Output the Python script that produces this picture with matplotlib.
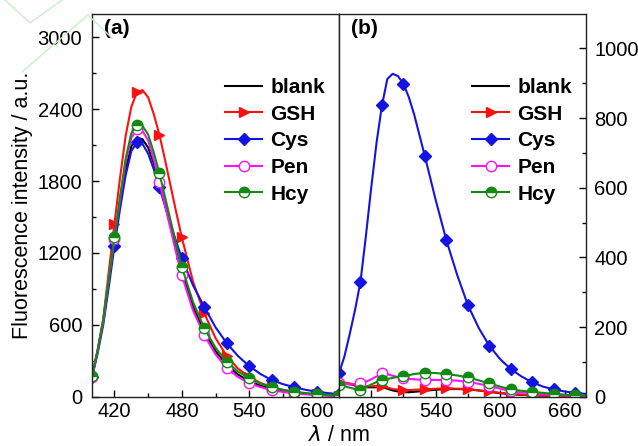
import numpy as np
import matplotlib
matplotlib.use("Agg")
import matplotlib.pyplot as plt
from matplotlib.lines import Line2D

plt.rcParams['font.family'] = ['Liberation Sans', 'DejaVu Sans']

names = ["blank", "GSH", "Cys", "Pen", "Hcy"]

# panel (a): wavelength / nm
wl_a = [400, 405, 410, 415, 420, 425, 430, 435, 440, 445, 450, 455, 460, 465, 470, 475,
        480, 490, 500, 510, 520, 530, 540, 550, 560, 570, 580, 590, 600, 610, 620]
blank_a = [165, 380, 630, 980, 1310, 1620, 1900, 2090, 2164, 2150, 2080, 1950, 1790, 1610, 1420, 1230,
           1050, 750, 540, 380, 265, 185, 130, 92, 65, 47, 34, 24, 17, 12, 9]
gsh_a = [170, 390, 650, 1050, 1445, 1830, 2180, 2420, 2542, 2560, 2500, 2360, 2189, 1980, 1760, 1540,
         1330, 960, 697, 490, 340, 235, 167, 115, 80, 55, 40, 28, 20, 14, 10]
cys_a = [165, 360, 600, 920, 1256, 1570, 1850, 2050, 2125, 2110, 2030, 1900, 1747, 1595, 1440, 1295,
         1155, 930, 750, 580, 447, 340, 256, 190, 139, 105, 80, 58, 42, 30, 22]
pen_a = [165, 380, 630, 985, 1320, 1650, 1960, 2160, 2239, 2220, 2140, 1980, 1797, 1600, 1400, 1200,
         1013, 720, 514, 355, 238, 165, 113, 80, 55, 40, 28, 20, 14, 10, 7]
hcy_a = [170, 385, 640, 990, 1330, 1670, 1990, 2200, 2272, 2260, 2190, 2040, 1867, 1670, 1470, 1270,
         1083, 790, 572, 410, 292, 210, 155, 110, 80, 58, 42, 30, 22, 16, 12]

# panel (b)
wl_b = [450, 455, 460, 465, 470, 475, 480, 485, 490, 495, 500, 505, 510, 515, 520, 530, 540, 550, 560,
        570, 580, 590, 600, 610, 620, 630, 640, 650, 660, 670, 680]
blank_b = [45, 40, 36, 32, 28, 27, 27, 27, 28, 23, 18, 15, 13, 13, 14, 17, 20, 22, 22,
           21, 18, 14, 10, 7, 5, 4, 3, 2, 2, 1, 1]
gsh_b = [45, 41, 38, 34, 30, 30, 30, 31, 30, 26, 22, 20, 19, 19, 20, 21, 23, 24, 23,
         22, 18, 15, 11, 8, 6, 4, 3, 2, 2, 1, 1]
cys_b = [67, 115, 180, 250, 330, 460, 600, 730, 836, 912, 927, 920, 898, 860, 810, 690, 565, 449, 350,
         263, 198, 146, 108, 79, 58, 41, 29, 21, 15, 11, 8]
pen_b = [40, 37, 35, 36, 38, 43, 50, 58, 67, 65, 60, 56, 53, 51, 50, 48, 48, 48, 46,
         43, 37, 31, 23, 16, 12, 10, 7, 5, 4, 3, 2]
hcy_b = [34, 30, 26, 22, 19, 27, 35, 42, 48, 51, 54, 57, 59, 62, 65, 69, 68, 65, 61,
         56, 47, 38, 29, 21, 17, 14, 11, 8, 6, 4, 3]

styles = {
    "blank": dict(color="black", marker=None),
    "GSH": dict(color="#ff1010", marker=">", ms=7.5, mfc="#ff1010", mec="#ff1010"),
    "Cys": dict(color="#1414e0", marker="D", ms=6.5, mfc="#1414e0", mec="#1414e0"),
    "Pen": dict(color="#ff10ff", marker="o", ms=7.5, mfc="white", mec="#ff10ff"),
    "Hcy": dict(color="#128a12", marker="o", ms=7.5, mfc="#128a12", mec="#128a12",
                fillstyle="top", markerfacecoloralt="white"),
}

fig = plt.figure(figsize=(6.38, 4.46), dpi=100)

# faint watermark lines in the corner
for xs, ys in [([5, 30, 62], [0, 23, 0]), ([22, 88, 112], [72, 15, 38])]:
    fig.add_artist(Line2D([x / 638 for x in xs], [1 - y / 446 for y in ys],
                          color="#c8f0c8", lw=1.0, transform=fig.transFigure))

ax1 = fig.add_axes([92 / 638, 1 - 396.7 / 446, 247 / 638, 383.2 / 446])
ax2 = fig.add_axes([339 / 638, 1 - 396.7 / 446, 247 / 638, 383.2 / 446])


def draw(ax, wl, series, step):
    marks = [i for i, w in enumerate(wl) if (w - wl[0]) % step == 0]
    for name, vals in zip(names, series):
        st = dict(styles[name])
        ax.plot(wl, vals, lw=1.5, markevery=marks, label=name, **st)
    leg = ax.legend(loc="upper left", bbox_to_anchor=(0.538, 0.832), frameon=False,
                    borderpad=0, borderaxespad=0, handlelength=1.8, handletextpad=0.38,
                    labelspacing=0.37, prop=dict(size=15, weight="bold"))
    return leg


draw(ax1, wl_a, [blank_a, gsh_a, cys_a, pen_a, hcy_a], 20)
draw(ax2, wl_b, [blank_b, gsh_b, cys_b, pen_b, hcy_b], 20)

ax1.set_xlim(400, 620)
ax1.set_ylim(0, 3200)
ax1.set_xticks([420, 480, 540, 600])
ax1.set_xticks([450, 510, 570], minor=True)
ax1.set_yticks([0, 600, 1200, 1800, 2400, 3000])
ax1.set_yticks(np.arange(300, 3200, 600), minor=True)
ax1.tick_params(which="both", direction="in", top=False, right=False, labelsize=14.5)
ax1.tick_params(which="major", length=5, width=1)
ax1.tick_params(which="minor", length=3, width=1)
ax1.tick_params(axis="y", pad=7)
ax1.set_ylabel("Fluorescence intensity / a.u.", fontsize=15.5, labelpad=3)

ax2.set_xlim(450, 680)
ax2.set_ylim(0, 1100)
ax2.set_xticks([480, 540, 600, 660])
ax2.set_xticks([510, 570, 630], minor=True)
ax2.set_yticks([0, 200, 400, 600, 800, 1000])
ax2.set_yticks(np.arange(100, 1100, 200), minor=True)
ax2.yaxis.tick_right()
ax2.tick_params(which="both", direction="in", top=False, left=False, labelsize=14.5)
ax2.tick_params(which="major", length=5, width=1)
ax2.tick_params(which="minor", length=3, width=1)
ax2.tick_params(axis="y", pad=6)

for ax in (ax1, ax2):
    for sp in ax.spines.values():
        sp.set_linewidth(1.0)
        sp.set_color("#222222")

ax1.text(0.05, 0.985, "(a)", transform=ax1.transAxes, fontsize=15,
         fontweight="bold", va="top")
ax2.text(0.05, 0.985, "(b)", transform=ax2.transAxes, fontsize=15,
         fontweight="bold", va="top")

fig.text(339 / 638, 1 - 425 / 446, r"$\lambda$ / nm", fontsize=15.5, ha="center", va="top")

fig.savefig("out.png", dpi=100)
